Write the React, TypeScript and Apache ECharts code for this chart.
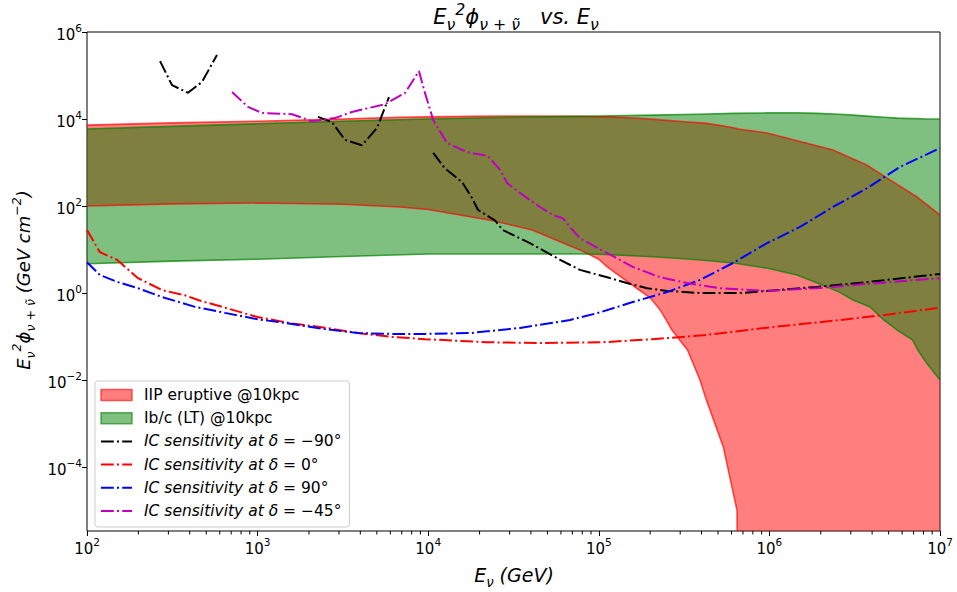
import React, { useEffect, useRef } from "react";
import * as echarts from "echarts";

const FONT = "'DejaVu Sans', 'Noto Sans', sans-serif";

// ---- axis ticks (exponents of 10) ----
const xTickExps = [2, 3, 4, 5, 6, 7];
const yTickExps = [-4, -2, 0, 2, 4, 6];
const yMinExp = -5.47;
const yMaxExp = 6;

// ---- IIP eruptive @10kpc band ----
const iipName = "IIP eruptive @10kpc";
const iipE = [100, 316, 1000, 3160, 6840, 10000, 24000, 40700, 77600, 100000, 112000, 151000, 200000, 229000, 269000, 331000, 392000, 427000, 537000, 646000, 653000, 968000, 2.36e6, 3.73e6, 5.09e6, 7.33e6, 1e7];
const iipUpper = [7240, 8130, 8910, 10000, 11000, 11200, 11700, 11700, 11500, 11200, 11200, 10700, 10000, 9550, 9120, 8510, 8130, 7940, 6920, 6030, 5890, 4790, 1950, 871, 398, 162, 62];
const iipLower = [100, 112, 117, 110, 95, 83, 46, 28, 9.8, 6.0, 4.0, 1.7, 0.78, 0.41, 0.14, 0.049, 0.01, 0.0035, 0.00029, 1.0e-5, 1e-8, 1e-8, 1e-8, 1e-8, 1e-8, 1e-8, 1e-8];

// ---- Ib/c (LT) @10kpc band ----
const ibcName = "Ib/c (LT) @10kpc";
const ibcE = [100, 316, 1000, 3160, 10000, 31600, 77600, 100000, 209000, 380000, 617000, 977000, 1.45e6, 1.91e6, 2.57e6, 3.09e6, 3.89e6, 4.68e6, 5.62e6, 6.92e6, 7.41e6, 8.32e6, 1e7];
const ibcUpper = [5890, 6760, 7760, 8910, 10000, 11000, 11500, 11700, 12300, 12900, 13500, 13800, 13800, 13500, 12900, 12300, 11500, 11000, 10500, 10200, 10200, 10000, 10000];
const ibcLower = [4.7, 5.4, 6.0, 6.9, 7.9, 7.9, 7.9, 7.8, 6.8, 5.8, 4.9, 3.7, 2.6, 1.7, 1.05, 0.69, 0.48, 0.24, 0.14, 0.083, 0.049, 0.025, 0.01];

// ---- IC sensitivity curves ----
const icDeltas = [-90, 0, 90, -45];
const icColors = ["#000000", "#ff0000", "#0000ff", "#bf00bf"];

const icM90E = [268, 315, 391, 472, 578, null, 2260, 2730, 3250, 4090, 5010, 5890, null, 10700, 12500, 15800, 18100, 19600, 24700, 27400, 39500, 59300, 77600, 112000, 146000, 192000, 251000, 392000, 676000, 968000, 1.9e6, 3.73e6, 1e7];
const icM90Flux = [214000, 60000, 40000, 71000, 295000, null, 11200, 8500, 3300, 2500, 6200, 32000, null, 1660, 740, 355, 151, 81, 46, 28, 14, 5.8, 3.4, 2.3, 1.7, 1.29, 1.12, 1.0, 1.0, 1.12, 1.38, 1.78, 2.75];

const icZeroE = [100, 119, 150, 199, 275, 375, 448, 644, 1000, 1590, 2480, 3880, 6140, 9570, 22100, 43400, 106000, 208000, 408000, 968000, 2.36e6, 4.63e6, 1e7];
const icZeroFlux = [28, 8.7, 5.8, 2.2, 1.17, 0.89, 0.69, 0.46, 0.28, 0.2, 0.16, 0.12, 0.098, 0.087, 0.074, 0.071, 0.074, 0.087, 0.107, 0.16, 0.23, 0.31, 0.46];

const icP90E = [100, 119, 152, 199, 275, 430, 644, 1000, 1590, 2480, 3880, 6140, 9570, 17600, 34500, 67800, 102000, 158000, 251000, 392000, 612000, 968000, 1.51e6, 2.36e6, 3.73e6, 5.83e6, 1e7];
const icP90Flux = [5.1, 2.6, 1.78, 1.29, 0.81, 0.48, 0.35, 0.25, 0.195, 0.148, 0.12, 0.115, 0.115, 0.12, 0.158, 0.24, 0.36, 0.62, 1.05, 2.0, 4.9, 14, 33, 95, 257, 794, 2140];

const icM45E = [708, 879, 1060, 1590, 2080, 2840, 3570, 5580, 7310, 8830, 9570, 10700, 12900, 16900, 22400, 26400, 29000, 34500, 45200, 54000, 61700, 67800, 77600, 112000, 158000, 229000, 329000, 513000, 968000, 1.9e6, 3.73e6, 1e7];
const icM45Flux = [41700, 19000, 13800, 12900, 8900, 10500, 14500, 21900, 39800, 126000, 39800, 9500, 2800, 1740, 1410, 676, 339, 200, 95, 62, 52, 33, 18, 8.3, 4.0, 2.3, 1.7, 1.29, 1.12, 1.29, 1.62, 2.2];

const icE = [icM90E, icZeroE, icP90E, icM45E];
const icFlux = [icM90Flux, icZeroFlux, icP90Flux, icM45Flux];

const fmtExp = (e: number) => (e < 0 ? "\u2212" + Math.abs(e) : String(e));
const icNames = icDeltas.map((d) => `IC sensitivity at δ = ${fmtExp(d)}°`);

const lg = (v: number) => Math.log10(v);

function clipRect(params: any) {
  const cs = params.coordSys;
  return { type: "rect", shape: { x: cs.x, y: cs.y, width: cs.width, height: cs.height } };
}

function bandFill(name: string, fill: string, E: number[], lo: number[], hi: number[]) {
  return {
    type: "custom",
    name,
    coordinateSystem: "cartesian2d",
    silent: true,
    itemStyle: { color: fill },
    data: E.map((e, i) => [lg(e), lg(lo[i]), lg(hi[i])]),
    encode: { x: 0, y: [1, 2] },
    renderItem: (params: any, api: any) => {
      if (params.dataIndex !== 0) return null;
      const upper = E.map((e, i) => api.coord([lg(e), lg(hi[i])]));
      const lower = E.map((e, i) => api.coord([lg(e), lg(lo[i])]));
      return {
        type: "group",
        clipPath: clipRect(params),
        children: [{ type: "polygon", shape: { points: upper.concat(lower.slice().reverse()) }, style: { fill, stroke: null } }],
      };
    },
  };
}

function bandEdges(edge: string, E: number[], lo: number[], hi: number[]) {
  return {
    type: "custom",
    coordinateSystem: "cartesian2d",
    silent: true,
    data: E.map((e, i) => [lg(e), lg(lo[i]), lg(hi[i])]),
    encode: { x: 0, y: [1, 2] },
    renderItem: (params: any, api: any) => {
      if (params.dataIndex !== 0) return null;
      const upper = E.map((e, i) => api.coord([lg(e), lg(hi[i])]));
      const lower = E.map((e, i) => api.coord([lg(e), lg(lo[i])]));
      return {
        type: "group",
        clipPath: clipRect(params),
        children: [
          { type: "polyline", shape: { points: upper }, style: { stroke: edge, lineWidth: 1.6, fill: null } },
          { type: "polyline", shape: { points: lower }, style: { stroke: edge, lineWidth: 1.6, fill: null } },
        ],
      };
    },
  };
}

function icSeries(i: number) {
  const E = icE[i];
  const F = icFlux[i];
  return {
    type: "line",
    name: icNames[i],
    data: E.map((e, k) => (e == null || F[k] == null ? ["-", "-"] : [lg(e as number), lg(F[k] as number)])),
    symbol: "none",
    connectNulls: false,
    lineStyle: { color: icColors[i], width: 2, type: [12.8, 3.2, 2, 3.2] },
    itemStyle: { color: icColors[i] },
    silent: true,
  };
}

const minorLogs: number[] = [];
for (let k = 2; k < 7; k++) for (let m = 2; m <= 9; m++) minorLogs.push(k + Math.log10(m));

const minorTickSeries = {
  type: "custom",
  coordinateSystem: "cartesian2d",
  silent: true,
  clip: false,
  z: 10,
  data: minorLogs.map((v) => [v, yMinExp]),
  encode: { x: 0, y: 1 },
  renderItem: (params: any, api: any) => {
    const p = api.coord([api.value(0), yMinExp]);
    return { type: "line", shape: { x1: p[0], y1: p[1], x2: p[0], y2: p[1] + 3.5 }, style: { stroke: "#000", lineWidth: 1 } };
  },
};

const tickRich = {
  b: { fontSize: 15, fontFamily: FONT, color: "#000", lineHeight: 20, verticalAlign: "bottom" },
  s: { fontSize: 10.5, fontFamily: FONT, color: "#000", lineHeight: 20, verticalAlign: "top" },
};
const tickFmt = (v: number) => `{b|10}{s|${fmtExp(Math.round(v))}}`;

const mathRich = (size: number, sub = 0.7) => ({
  it: { fontSize: size, fontFamily: FONT, fontStyle: "italic", color: "#000", lineHeight: size * 1.5, verticalAlign: "middle" },
  n: { fontSize: size, fontFamily: FONT, color: "#000", lineHeight: size * 1.5, verticalAlign: "middle" },
  sup: { fontSize: size * sub, fontFamily: FONT, fontStyle: "italic", color: "#000", lineHeight: size * 1.5, verticalAlign: "top" },
  sub: { fontSize: size * sub, fontFamily: FONT, fontStyle: "italic", color: "#000", lineHeight: size * 1.5, verticalAlign: "bottom" },
});

const LEG = 15.5;

export default function App() {
  const ref = useRef<HTMLDivElement>(null);
  useEffect(() => {
    if (!ref.current) return;
    const chart = echarts.init(ref.current, null, { renderer: "svg" });
    const series: any[] = [
      bandFill(iipName, "rgba(255,0,0,0.5)", iipE, iipLower, iipUpper),
      bandFill(ibcName, "rgba(0,128,0,0.5)", ibcE, ibcLower, ibcUpper),
      bandEdges("rgba(255,0,0,0.68)", iipE, iipLower, iipUpper),
      bandEdges("rgba(0,128,0,0.7)", ibcE, ibcLower, ibcUpper),
      ...icDeltas.map((_, i) => icSeries(i)),
      minorTickSeries,
    ];
    const hideSym = { color: "transparent", borderColor: "transparent", borderWidth: 0 };
    chart.setOption({
      animation: false,
      backgroundColor: "#ffffff",
      grid: { left: 87, top: 32, width: 853, height: 499, show: true, borderColor: "#000", borderWidth: 1, backgroundColor: "transparent" },
      xAxis: {
        type: "value",
        min: 2,
        max: 7,
        interval: 1,
        axisLine: { show: false, onZero: false },
        splitLine: { show: false },
        axisTick: { show: true, length: 5, lineStyle: { color: "#000", width: 1 } },
        axisLabel: { formatter: tickFmt, rich: tickRich, margin: 5 },
      },
      yAxis: {
        type: "value",
        min: yMinExp,
        max: yMaxExp,
        axisLine: { show: false, onZero: false },
        splitLine: { show: false },
        axisTick: { show: true, length: 5, customValues: yTickExps, lineStyle: { color: "#000", width: 1 } },
        axisLabel: { customValues: yTickExps, formatter: tickFmt, rich: tickRich, margin: 5 },
      },
      legend: {
        orient: "vertical",
        left: 95,
        top: 381,
        selectedMode: false,
        itemWidth: 31,
        itemHeight: 11,
        itemGap: 7.2,
        backgroundColor: "rgba(255,255,255,0.8)",
        borderColor: "#cccccc",
        borderWidth: 1,
        borderRadius: 3,
        padding: [6, 8, 8, 5],
        data: [
          { name: iipName, icon: "rect", itemStyle: { color: "rgba(255,0,0,0.5)", borderColor: "rgba(255,0,0,0.6)", borderWidth: 1.5 } },
          { name: ibcName, icon: "rect", itemStyle: { color: "rgba(0,128,0,0.5)", borderColor: "rgba(0,128,0,0.6)", borderWidth: 1.5 } },
          ...icNames.map((n) => ({ name: n, itemStyle: hideSym })),
        ],
        formatter: (name: string) => {
          if (name.startsWith("IC")) {
            const idx = name.indexOf(" =");
            return `{pi|${name.slice(0, idx)}}{n|${name.slice(idx)}}`;
          }
          return `{pn|${name}}`;
        },
        textStyle: {
          fontFamily: FONT,
          fontSize: LEG,
          color: "#000",
          rich: {
            pi: { fontFamily: FONT, fontSize: LEG, fontStyle: "italic", color: "#000", lineHeight: 17, padding: [0, 0, 0, 7] },
            pn: { fontFamily: FONT, fontSize: LEG, color: "#000", lineHeight: 17, padding: [0, 0, 0, 7] },
            n: { fontFamily: FONT, fontSize: LEG, color: "#000", lineHeight: 17 },
          },
        },
      },
      graphic: [
        {
          type: "text",
          x: 516,
          y: 17,
          style: {
            text: "{it|E}{sub|ν}{sup|2}{it|ϕ}{sub|ν + ν̃}{it|   vs. E}{sub|ν}",
            rich: mathRich(21, 0.75),
            align: "center",
            verticalAlign: "middle",
          },
        },
        {
          type: "text",
          x: 514,
          y: 575,
          style: {
            text: "{it|E}{sub|ν}{it| (GeV)}",
            rich: mathRich(19),
            align: "center",
            verticalAlign: "middle",
          },
        },
        {
          type: "text",
          x: 23,
          y: 280,
          rotation: Math.PI / 2,
          style: {
            text: "{it|E}{sub|ν}{sup|2}{it|ϕ}{sub|ν + ν̃}{it| (GeV cm}{sup|−2}{it|)}",
            rich: mathRich(18),
            align: "center",
            verticalAlign: "middle",
          },
        },
      ],
      series,
    });
    return () => chart.dispose();
  }, []);
  return <div ref={ref} style={{ position: "fixed", left: 0, top: 0, width: 957, height: 592, background: "#fff" }} />;
}
